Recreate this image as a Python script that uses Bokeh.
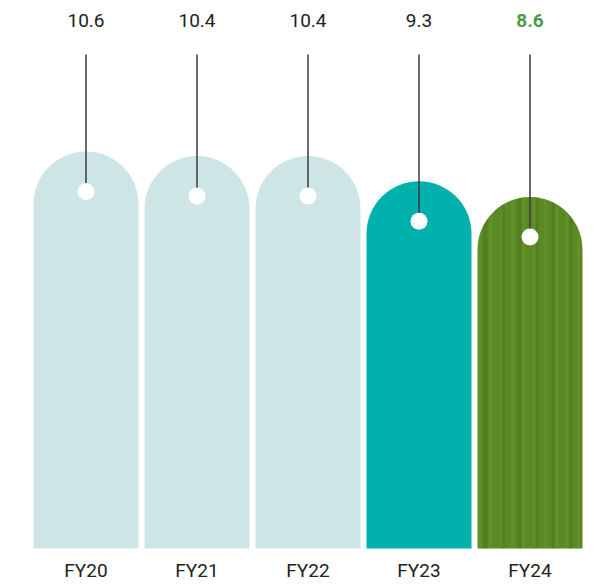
from bokeh.plotting import figure
from bokeh.models import Range1d, ColumnDataSource
from bokeh.core.properties import value
from bokeh.embed import file_html
from bokeh.resources import INLINE
import numpy as np

# ---- data ----
categories = ["FY20", "FY21", "FY22", "FY23", "FY24"]
values = [10.6, 10.4, 10.4, 9.3, 8.6]
value_labels = ["10.6", "10.4", "10.4", "9.3", "8.6"]
bar_colors = ["#cde6e5", "#cde6e5", "#cde6e5", "#00b0ad", "#5b8a24"]
label_colors = ["#222222", "#222222", "#222222", "#222222", "#4e9a45"]
label_weights = ["normal", "normal", "normal", "normal", "bold"]

# ---- layout ----
W, H = 590, 582
K = 22.76            # pixels per value unit
BASE = -6.84         # bar baseline (value units)
y_start = BASE - (H - 548) / K
y_end = y_start + H / K
px_x = 111.0
x_start = 0.5 - 85.5 / px_x
x_end = x_start + W / px_x

def y_from_top(px):
    return y_end - px / K

x = np.arange(len(categories)) + 0.5
n = len(categories)

src = ColumnDataSource(dict(
    x=x, top=values, color=bar_colors, cat=categories,
    lab=value_labels, lab_color=label_colors, lab_weight=label_weights,
    dot_y=[v - 40 / K for v in values],
    line_top=[y_from_top(54)] * n,
    lab_y=[y_from_top(20)] * n,
    cat_y=[y_from_top(570)] * n,
))

p = figure(width=W, height=H, output_backend="svg", toolbar_location=None,
           x_range=Range1d(x_start, x_end), y_range=Range1d(y_start, y_end),
           min_border=0, outline_line_color=None)
p.axis.visible = False
p.grid.visible = False
p.background_fill_color = "white"

r = 53
p.vbar(x="x", top="top", bottom=BASE, width=105 / px_x, fill_color="color",
       line_color=None, border_radius=(r, r, 0, 0), source=src)

# wood-grain texture on the highlighted bar
wood = ColumnDataSource(dict(x=[x[-1]], top=[values[-1]]))
p.vbar(x="x", top="top", bottom=BASE, width=105 / px_x, fill_alpha=0,
       line_color=None, border_radius=(r, r, 0, 0),
       hatch_pattern="vertical_line", hatch_color="#46661a", hatch_alpha=0.35,
       hatch_scale=17, hatch_weight=4, source=wood)
p.vbar(x="x", top="top", bottom=BASE, width=105 / px_x, fill_alpha=0,
       line_color=None, border_radius=(r, r, 0, 0),
       hatch_pattern="vertical_line", hatch_color="#6c9e34", hatch_alpha=0.35,
       hatch_scale=11, hatch_weight=3, source=wood)

p.segment(x0="x", y0="line_top", x1="x", y1="dot_y", line_color="#3a3a3a",
          line_width=1.5, source=src)
p.scatter(x="x", y="dot_y", size=17, fill_color="white", line_color=None,
          source=src)

p.text(x="x", y="lab_y", text="lab", text_color="lab_color",
       text_font_style="lab_weight", text_font=value("Roboto"),
       text_font_size="19px", text_align="center", text_baseline="middle",
       source=src)
p.text(x="x", y="cat_y", text="cat", text_color="#222222",
       text_font=value("Roboto"), text_font_size="19px",
       text_align="center", text_baseline="middle", source=src)

open("out.html", "w").write(file_html(p, INLINE))
